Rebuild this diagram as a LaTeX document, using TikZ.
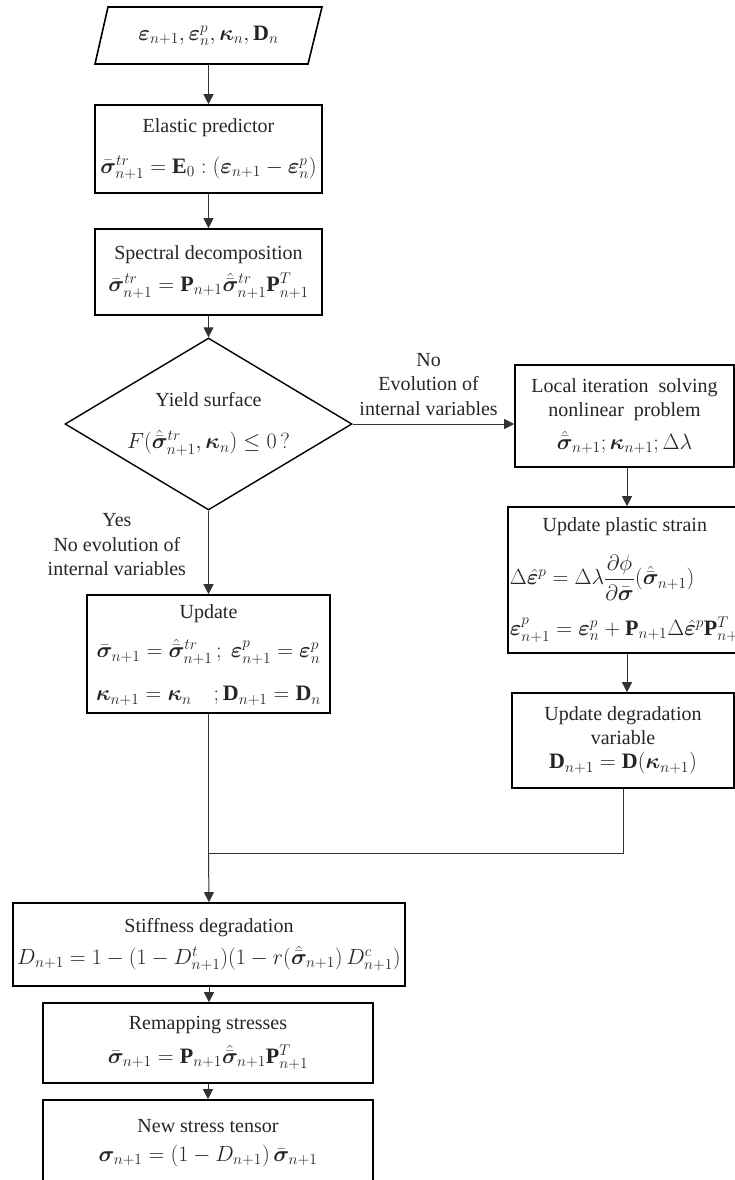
\RequirePackage{fix-cm}
\documentclass[tikz,border=0pt]{standalone}
\usepackage{amsmath}
\usepackage{fontspec}
\setmainfont{Liberation Serif}
\usepackage{bm}
\usetikzlibrary{shapes.geometric,arrows.meta}
\newcommand{\sbar}{\bar{\bm{\sigma}}}
\newcommand{\shb}{\hat{\bar{\bm{\sigma}}}}
\newcommand{\beps}{\bm{\varepsilon}}
\newcommand{\bkap}{\bm{\kappa}}
\newcommand{\mth}[1]{{\fontsize{22}{26}\selectfont$#1$}}
\begin{document}
\begin{tikzpicture}[x=1pt,y=-1pt,
  every node/.style={font=\fontsize{20}{24}\selectfont, text=black!85},
  box/.style={draw=black, line width=1.6pt, rectangle, inner sep=0pt, align=center},
  conn/.style={draw=black!80, line width=1pt},
  arr/.style={conn, -{Triangle[length=10pt,width=10pt]}},
  lab/.style={align=center, inner sep=0pt, font=\fontsize{20}{24.5}\selectfont}
]
\useasboundingbox (0,0) rectangle (735,1180);
\fill[white] (0,0) rectangle (735,1180);

% input parallelogram
\draw[line width=1.6pt] (108,7) -- (322,7) -- (308,64) -- (95,64) -- cycle;
\node[inner sep=0pt, minimum width=213pt, minimum height=57pt] (in) at (208.5,35.5)
  {\mth{\beps_{n+1},\beps^p_n,\bkap_n,\mathbf{D}_n}};

\node[box, minimum width=227pt, minimum height=88pt] (el) at (208.5,149)
  {Elastic predictor\\[17pt] \mth{\sbar^{tr}_{n+1}=\mathbf{E}_0:(\beps_{n+1}-\beps^p_n)}};

\node[box, minimum width=227pt, minimum height=86pt] (sp) at (208.5,272)
  {Spectral decomposition\\[8pt] \mth{\sbar^{tr}_{n+1}=\mathbf{P}_{n+1}\shb^{tr}_{n+1}\mathbf{P}^T_{n+1}}};

\node[draw=black, line width=1.4pt, diamond, aspect=1.67, inner sep=0pt,
  minimum width=287pt, minimum height=172pt, align=center] (dia) at (208.5,424)
  {Yield surface\\[18pt] \mth{F(\shb^{tr}_{n+1},\bkap_n)\le 0\,?}};

\node[box, minimum width=243pt, minimum height=118pt] (up) at (208.5,654)
  {\\[-8pt]Update\\[15pt] \mth{\sbar_{n+1}=\shb^{tr}_{n+1}\,;\ \beps^p_{n+1}=\beps^p_n}\\[19pt]
   \mth{\bkap_{n+1}=\bkap_n\quad;\mathbf{D}_{n+1}=\mathbf{D}_n}};

\node[box, minimum width=219pt, minimum height=102pt] (loc) at (624.5,416)
  {Local iteration\ \ solving\\ nonlinear\ \ problem\\[9pt] \mth{\shb_{n+1};\bkap_{n+1};\Delta\lambda}};

\node[box, minimum width=238pt, minimum height=146pt, align=left] (pl) at (627,580)
  {\makebox[234pt][c]{Update plastic strain}\\[18pt]
   \hspace*{2pt}\mth{\Delta\hat{\beps}^p=\Delta\lambda\dfrac{\partial\phi}{\partial\sbar}(\shb_{n+1})}\\[16pt]
   \hspace*{2pt}\mth{\beps^p_{n+1}=\beps^p_n+\mathbf{P}_{n+1}\Delta\hat{\beps}^p\mathbf{P}^T_{n+1}}};

\node[box, minimum width=222pt, minimum height=95pt] (dg) at (623,740.5)
  {Update degradation\\ variable\\[0pt] \mth{\mathbf{D}_{n+1}=\mathbf{D}(\bkap_{n+1})}};

\node[box, minimum width=392pt, minimum height=83pt] (st) at (209,944.5)
  {Stiffness degradation\\[8pt] \mth{D_{n+1}=1-(1-D^t_{n+1})(1-r(\shb_{n+1})\,D^c_{n+1})}};

\node[box, minimum width=330pt, minimum height=80pt] (rm) at (208,1043)
  {Remapping stresses\\[10pt] \mth{\sbar_{n+1}=\mathbf{P}_{n+1}\shb_{n+1}\mathbf{P}^T_{n+1}}};

\node[box, minimum width=330pt, minimum height=86pt] (ns) at (208,1143)
  {New stress tensor\\[5pt] \mth{\bm{\sigma}_{n+1}=(1-D_{n+1})\,\sbar_{n+1}}};

\coordinate (j) at (208.5,853);

\draw[arr] (in.south) -- (el.north);
\draw[arr] (el.south) -- (sp.north);
\draw[arr] (sp.south) -- (dia.north);
\draw[arr] (dia.south) -- node[lab, pos=0.41, left=22pt] {Yes\\No evolution of\\internal variables} (up.north);
\draw[arr] (dia.east) -- node[lab, pos=0.47, above=8pt] {No\\Evolution of\\internal variables} (dia.east -| loc.west);
\draw[arr] (loc.south -| pl.north) -- (pl.north);
\draw[arr] (pl.south) -- (pl.south |- dg.north);
\draw[conn] (up.south) -- (j);
\draw[conn] (dg.south) |- (j);
\draw[arr] (j) -- (st.north);
\draw[arr] (st.south) -- (st.south |- rm.north);
\draw[arr] (rm.south) -- (ns.north);
\end{tikzpicture}
\end{document}
